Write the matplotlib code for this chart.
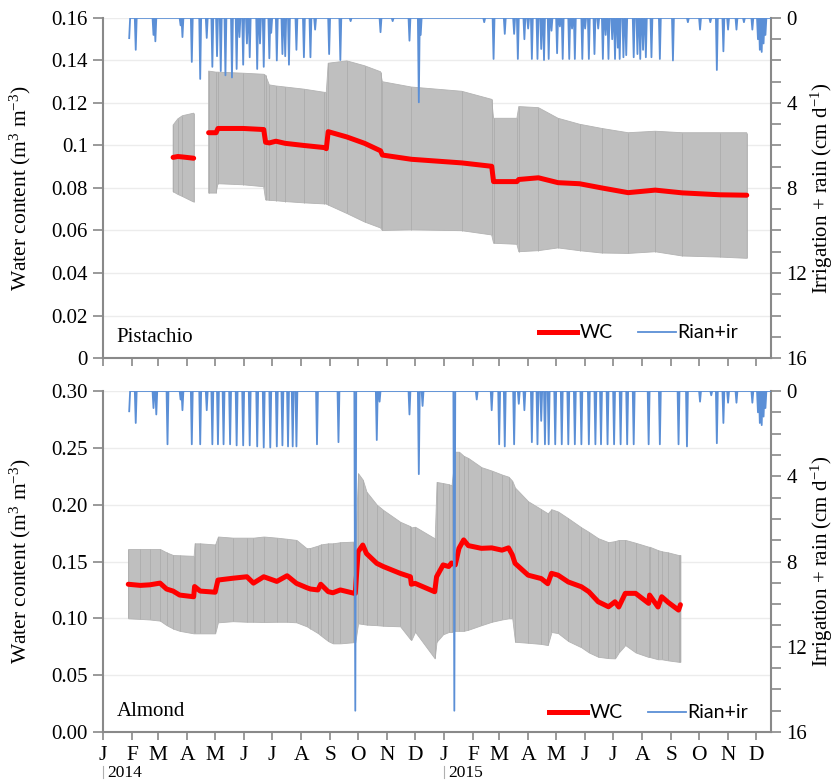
import numpy as np
import pandas as pd
import matplotlib
matplotlib.use("Agg")
import matplotlib.pyplot as plt
from matplotlib.lines import Line2D
from matplotlib.ticker import FixedLocator, MultipleLocator
import matplotlib.transforms as mtransforms

plt.rcParams['font.family'] = ['Liberation Serif', 'DejaVu Serif']
plt.rcParams['mathtext.fontset'] = 'custom'
plt.rcParams['mathtext.rm'] = 'Liberation Serif'
plt.rcParams['mathtext.it'] = 'Liberation Serif:italic'

# x values are days since 2014-01-01
START = pd.Timestamp("2014-01-01")
X_END = 715
month_starts = pd.date_range("2014-01-01", "2015-12-01", freq="MS")
month_ticks = (month_starts - START).days.values
month_labels = list("JFMAMJJASOND") * 2

# ---- Pistachio water content (mean, mean+sd, mean-sd), nan = no data
pist_day = [75, 80, 85, 97, 105, 113, 121, 123, 150, 172,
            174, 178, 185, 195, 215, 237, 239, 241, 261, 280,
            297, 299, 330, 384, 416, 418, 443, 445, 466, 487,
            510, 534, 562, 591, 620, 660, 689]
pist_wc = [.0944, .0948, .0946, .0940, np.nan, .1060, .1060, .1080, .1080, .1075,
           .1015, .1012, .1020, .1010, .1000, .0990, .0985, .1065, .1040, .1010,
           .0975, .0955, .0935, .0918, .0902, .0830, .0830, .0840, .0848, .0825,
           .0820, .0800, .0778, .0790, .0777, .0768, .0766]
pist_hi = [.1096, .1125, .1140, .1152, np.nan, .1350, .1345, .1345, .1340, .1335,
           .1330, .1285, .1280, .1275, .1265, .1250, .1250, .1387, .1398, .1375,
           .1347, .1300, .1275, .1255, .1217, .1128, .1128, .1183, .1178, .1128,
           .1100, .1080, .1060, .1067, .1060, .1060, .1060]
pist_lo = [.0783, .0770, .0760, .0734, np.nan, .0776, .0776, .0820, .0815, .0806,
           .0744, .0742, .0740, .0736, .0730, .0725, .0725, .0720, .0680, .0640,
           .0612, .0600, .0603, .0599, .0579, .0540, .0535, .0500, .0505, .0518,
           .0505, .0494, .0492, .0500, .0480, .0475, .0469]

# ---- Almond water content
alm_day = [27, 40, 50, 61, 68, 75, 82, 97, 98, 104,
           120, 123, 139, 154, 161, 172, 186, 197, 207, 218,
           222, 230, 233, 241, 246, 254, 268, 270, 273, 278,
           282, 293, 300, 318, 329, 330, 334, 355, 357, 364,
           370, 373, 377, 381, 386, 391, 405, 416, 427, 434,
           438, 441, 455, 469, 476, 480, 487, 498, 512, 520,
           530, 541, 548, 552, 559, 570, 584, 585, 594, 598,
           605, 616, 618]
alm_wc = [.130, .129, .1295, .131, .1258, .124, .1205, .119, .128, .124,
          .123, .1337, .1353, .1366, .131, .1366, .1325, .1375, .1308, .127,
          .1258, .125, .130, .1235, .1225, .125, .1222, .122, .1586, .1645,
          .157, .1484, .1456, .1396, .1366, .130, .1308, .1234, .1366, .147,
          .1456, .1487, .147, .1616, .169, .164, .1616, .162, .160, .162,
          .156, .1484, .138, .135, .1305, .1396, .138, .132, .1278, .1234,
          .1146, .1102, .1146, .110, .122, .122, .1132, .1205, .110, .119,
          .114, .1073, .112]
alm_hi = [.161, .161, .161, .161, .158, .1557, .1555, .155, .166, .166,
          .165, .172, .171, .171, .171, .172, .171, .170, .169, .1616,
          .162, .164, .165, .166, .166, .167, .1675, .1675, .2276, .222,
          .2114, .200, .1953, .185, .181, .180, .1806, .1704, .220, .219,
          .218, .217, .2466, .2466, .243, .241, .233, .230, .2265, .2246,
          .221, .215, .203, .196, .1924, .196, .194, .188, .180, .176,
          .1705, .167, .168, .169, .169, .1665, .163, .163, .160, .159,
          .158, .1557, .1557]
alm_lo = [.100, .0995, .099, .098, .094, .091, .089, .0868, .0868, .0868,
          .0868, .0965, .0975, .097, .097, .0968, .097, .097, .0965, .093,
          .091, .087, .085, .080, .078, .078, .079, .079, .0956, .095,
          .0945, .094, .0935, .093, .0815, .081, .0882, .0648, .0794, .086,
          .088, .088, .089, .089, .089, .090, .094, .097, .099, .100,
          .100, .0794, .0785, .0775, .0765, .088, .087, .080, .0745, .070,
          .0662, .065, .0648, .070, .0765, .070, .066, .066, .064, .064,
          .063, .0618, .0618]

# ---- Irrigation + rain events (cm/d); other days are 0
RAIN_FIRST, RAIN_LAST = 28, 714
pist_rain_day = [28, 35, 54, 56, 83, 85, 95, 104, 111, 117,
                 122, 126, 131, 138, 143, 146, 150, 154, 157, 165,
                 168, 172, 178, 180, 186, 192, 195, 199, 207, 215,
                 222, 227, 242, 254, 265, 297, 310, 328, 338, 340,
                 408, 418, 430, 440, 444, 451, 455, 459, 465, 469,
                 472, 477, 480, 486, 489, 492, 499, 502, 505, 513,
                 516, 520, 526, 530, 535, 538, 541, 545, 548, 551,
                 553, 557, 560, 568, 572, 575, 578, 581, 587, 596,
                 610, 626, 639, 650, 657, 664, 669, 678, 686, 695,
                 701, 703, 705, 707, 709]
pist_rain = [0.95, 1.5, 0.8, 1.1, 0.35, 0.9, 2.07, 2.87, 0.94, 2.3,
             1.8, 2.5, 2.7, 2.8, 2.4, 0.9, 2.2, 1.2, 1.85, 2.4,
             1.2, 2.3, 1.9, 0.7, 2.0, 1.7, 1.8, 2.2, 1.5, 1.85,
             1.85, 0.55, 1.7, 1.98, 0.15, 0.67, 0.15, 1.07, 3.97, 0.8,
             0.2, 1.93, 0.75, 0.75, 1.93, 1.0, 0.5, 1.93, 1.93, 1.46,
             1.98, 1.93, 0.6, 1.66, 0.4, 1.93, 1.93, 0.5, 1.93, 1.93,
             0.5, 1.93, 1.7, 0.5, 1.93, 0.8, 1.93, 1.0, 1.93, 1.4,
             1.93, 1.85, 1.75, 1.85, 1.7, 1.93, 1.5, 1.85, 1.85, 1.93,
             2.0, 0.2, 0.55, 0.2, 2.45, 1.57, 0.55, 0.55, 0.2, 0.55,
             1.0, 1.5, 1.6, 1.2, 0.8]

alm_rain_day = [28, 35, 54, 57, 69, 83, 85, 95, 104, 111,
                117, 123, 129, 136, 143, 150, 157, 165, 172, 179,
                186, 192, 198, 203, 207, 229, 252, 270, 293, 296,
                328, 338, 342, 376, 400, 416, 424, 430, 440, 445,
                451, 459, 465, 469, 473, 477, 484, 491, 498, 505,
                512, 520, 527, 533, 540, 547, 554, 561, 568, 584,
                596, 616, 625, 639, 651, 657, 664, 669, 678, 695,
                701, 703, 705, 707, 709]
alm_rain = [0.95, 1.5, 0.8, 1.1, 2.5, 0.4, 0.9, 2.5, 2.5, 0.9,
            2.5, 2.5, 2.5, 2.5, 2.55, 2.55, 2.55, 2.6, 2.65, 2.65,
            2.6, 2.55, 2.6, 2.6, 2.6, 2.5, 2.4, 15.0, 2.3, 0.5,
            1.1, 3.9, 0.7, 15.0, 0.4, 0.9, 2.5, 2.6, 2.5, 0.6,
            0.9, 2.4, 2.5, 1.4, 2.5, 2.5, 2.5, 2.5, 2.5, 2.5,
            2.5, 2.5, 2.5, 2.5, 2.5, 2.5, 2.5, 2.5, 2.5, 2.5,
            2.5, 2.5, 2.6, 0.5, 0.2, 2.45, 1.5, 0.55, 0.55, 0.55,
            1.0, 1.5, 1.6, 1.2, 0.8]

GRAY = '#898989'
RED = '#ff0000'
BLUE = '#5b8fd6'
BAND = '#bfbfbf'


def daily_rain(event_days, event_vals):
    days = np.arange(RAIN_FIRST, RAIN_LAST + 1)
    vals = np.zeros(len(days))
    vals[np.array(event_days) - RAIN_FIRST] = event_vals
    return days, vals


def draw_panel(ax, day, wc, hi, lo, rain_day, rain_val, ylim, yticks, ylabels,
               name, legend_xy, show_months):
    ax.fill_between(day, lo, hi, color=BAND, lw=0.6, edgecolor='#b3b3b3', zorder=2)
    # error bar lines at each reading, giving the striped look of the band
    ax.vlines(day, lo, hi, color='#adadad', lw=0.6, zorder=2)
    ax.plot(day, wc, color=RED, lw=3.6, solid_capstyle='round', zorder=3)
    ax.set_xlim(0, X_END)
    ax.set_ylim(*ylim)
    ax.set_yticks(yticks)
    ax.set_yticklabels(ylabels)
    ax.yaxis.grid(True, color='#ececec', lw=1.0)
    ax.set_axisbelow(True)
    ax.set_xticks(month_ticks)
    if show_months:
        ax.set_xticklabels(month_labels)
    else:
        ax.set_xticklabels([])
    ax.tick_params(axis='y', direction='out', length=7, color=GRAY, width=1.2,
                   labelsize=15, pad=4)
    ax.tick_params(axis='x', direction='out', length=6, color=GRAY, width=1.2,
                   labelsize=15.5, pad=4)
    for s in ('left', 'bottom'):
        ax.spines[s].set_color(GRAY)
        ax.spines[s].set_linewidth(1.5)
    ax.spines['top'].set_visible(False)
    ax.spines['right'].set_visible(False)
    ax.set_ylabel('Water content (m$^3$ m$^{-3}$)', fontsize=15.5)
    ax.yaxis.set_label_coords(-0.105, 0.5)
    ax.text(0.02, 0.06, name, transform=ax.transAxes, fontsize=15,
            va='center', ha='left')

    # irrigation + rain on reversed right axis
    ax2 = ax.twinx()
    rd, rv = daily_rain(rain_day, rain_val)
    ax2.plot(rd, rv, color=BLUE, lw=1.3, zorder=4)
    ax2.set_ylim(16, 0)
    ax2.set_xlim(0, X_END)
    ax2.yaxis.set_major_locator(FixedLocator([0, 4, 8, 12, 16]))
    ax2.yaxis.set_minor_locator(MultipleLocator(1))
    ax2.tick_params(axis='y', which='both', direction='out', length=7,
                    color=GRAY, width=1.2, labelsize=15, pad=4)
    for s in ('left', 'top', 'bottom'):
        ax2.spines[s].set_visible(False)
    ax2.spines['right'].set_color(GRAY)
    ax2.spines['right'].set_linewidth(1.5)
    ax2.set_ylabel('Irrigation + rain (cm d$^{-1}$)', fontsize=15)
    ax2.yaxis.set_label_coords(1.057, 0.5)

    handles = [Line2D([], [], color=RED, lw=3.6),
               Line2D([], [], color=BLUE, lw=1.3)]
    ax2.legend(handles, ['WC', 'Rian+ir'], loc='center right',
               bbox_to_anchor=legend_xy, ncol=2, frameon=False,
               prop={'family': 'Lato', 'size': 14}, handlelength=1.95,
               handletextpad=0.1, columnspacing=1.3, borderpad=0,
               borderaxespad=0)
    return ax2


fig = plt.figure(figsize=(8.35, 7.8), dpi=100)
ax_top = fig.add_axes([0.1234, 0.541, 0.8, 0.436])
ax_bot = fig.add_axes([0.1234, 0.0615, 0.8, 0.4372])

draw_panel(ax_top, pist_day, pist_wc, pist_hi, pist_lo, pist_rain_day, pist_rain,
           (0, 0.16), np.arange(0, 0.161, 0.02),
           ['0', '0.02', '0.04', '0.06', '0.08', '0.1', '0.12', '0.14', '0.16'],
           'Pistachio', (0.951, 0.074), False)
draw_panel(ax_bot, alm_day, alm_wc, alm_hi, alm_lo, alm_rain_day, alm_rain,
           (0, 0.30), np.arange(0, 0.301, 0.05),
           ['0.00', '0.05', '0.10', '0.15', '0.20', '0.25', '0.30'],
           'Almond', (0.966, 0.056), True)

# year marks under the first January of each year
blend = mtransforms.blended_transform_factory(ax_bot.transData, ax_bot.transAxes)
for year in (2014, 2015):
    d = (pd.Timestamp(f"{year}-01-01") - START).days
    ax_bot.plot([d, d], [-0.1, -0.135], transform=blend, clip_on=False,
                color='#b0b0b0', lw=0.8)
    ax_bot.text(d + 4, -0.12, str(year), transform=blend, fontsize=12.5,
                va='center', ha='left')

fig.savefig("out.png", dpi=100)
